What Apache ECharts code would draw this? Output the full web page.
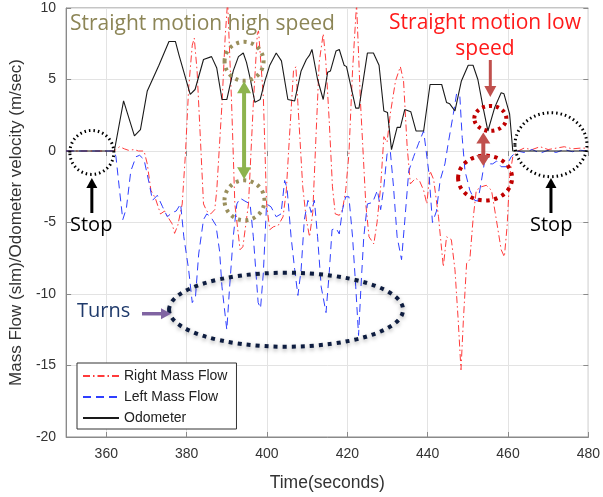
<!DOCTYPE html>
<html>
<head>
<meta charset="utf-8">
<script src="https://cdn.jsdelivr.net/npm/echarts@6/dist/echarts.min.js"></script>
<style>
html,body{margin:0;padding:0;background:#fff;}
#chart{width:603px;height:497px;}
</style>
</head>
<body>
<div id="chart"></div>
<script>
// ---- data (time in seconds, value) ----
const xTicks = [360, 380, 400, 420, 440, 460, 480];
const yTicks = [-20, -15, -10, -5, 0, 5, 10];

const odoT = [350,362,364.3,367,368.5,370.2,373.1,375.6,377.2,378.1,380.9,382.1,384.2,386.2,387.5,388.8,390,391.6,392.9,394.1,394.9,395.8,397,398.3,399.5,400.7,402.3,403.6,405.2,406.9,408.5,409.8,410.6,411.2,412.6,414,415.1,415.8,417.2,418,419.2,419.8,422.1,422.9,425,426.5,427.9,429.1,430,431,432.4,433.2,434.3,435.8,437.1,439,440.6,443.5,444.7,445.5,446.8,448.4,450.1,451.3,452.5,453.8,455,456.7,458.3,459,460.4,461.2,480];
const odoV = [0,0,3.5,1.06,1.5,4.2,6.0,7.66,7.66,6.7,3.96,4.3,6.4,6.6,5.8,3.6,3.6,5.6,6.6,6.85,6.2,5.1,3.4,3.6,4.9,6.0,6.85,6.3,3.6,3.5,5.6,6.4,6.7,7.1,5.0,3.6,5.5,5.6,7.0,7.1,6.0,5.9,3.0,3.0,6.85,6.85,6.0,2.8,2.7,0.1,1.65,1.65,2.9,2.75,1.4,1.4,4.65,4.65,3.4,3.3,2.8,4.9,6.0,6.0,5.0,3.05,1.4,3.05,4.07,4.0,2.6,0,0];

const rightT = [350,362,363.3,364.5,365.5,367,368,369.4,370.2,371.1,372.2,373.5,374.5,375.3,376.4,377,377.8,378.9,379.7,380.5,381.4,381.9,382.6,383.4,384.2,385,386,387,387.5,388.8,389.6,390.2,391.2,392,393.3,394,395.4,396.6,397.6,397.9,399.1,399.9,400.7,401.6,402.8,404,404.8,405.6,406.6,407.2,407.7,408.9,409.8,410.6,411.4,412.2,413,414,414.6,415.5,416.3,417,418,418.8,419.6,420.4,421.3,422.3,423.3,424.6,425.4,426.6,427.4,428.3,429.1,429.9,430.7,432,433.2,434,434.9,435.7,437,438,439,439.8,440.6,441.5,442.7,443.9,444.7,445.9,446.8,447.6,448.3,448.9,449.7,450.5,451.3,452.1,453.4,454.6,455.9,457.1,458.3,459.1,459.8,460.4,461.2,462.5,464,466,468,470,472,474,476,478,480];
const rightV = [0,0,0.3,0.15,0.05,0.1,0,0,-0.9,-2.75,-3.3,-4.4,-4.2,-4.6,-5.1,-5.76,-5.2,-3.7,-0.2,4.4,7.4,7.9,5.6,1.0,-3.7,-4.2,-4.4,-4.1,-2.75,3.3,8.0,10.5,3.3,-3.7,-6.9,-6.7,-3.7,3.3,8.2,8.4,3.75,-3.7,-5.5,-5.3,-5.2,-4.6,-2.8,1.0,5.6,5.9,3.3,-2.5,-4.8,-6.0,-4.3,1.0,6.2,8.2,6.5,2.1,-2.5,-4.4,-4.5,-4.1,-2.75,-0.2,5.6,10.3,3.3,-3.7,-6.0,-6.5,-5.0,-2.5,1.0,0.6,2.6,4.9,5.9,4.9,0.3,-2.3,-1.9,-2.1,-2.75,-3.7,-1.4,-2.0,-4.6,-8.1,-6.0,-6.2,-8.3,-11.8,-15.3,-11.8,-7.85,-7.6,-4.8,-2.75,-2.5,-2.4,-2.75,-4.8,-6.9,-7.4,-5.2,-1.8,-0.4,0,0.2,0.1,0.3,0.1,0.2,0.3,0.15,0.2,0.2];

const leftT = [350,362,362.4,363.3,364.1,365,366.1,367.4,368.3,369.4,370.7,371.5,372.7,374,375.2,376.4,377.4,378.5,379.3,380.5,381.4,382.2,383,384.2,385,386,387.3,388.2,388.8,390,390.7,391.6,392.5,393.3,394.5,395.8,396.6,397.8,398.4,399.1,399.9,401,402.3,403.5,404.4,405,406,406.9,407.7,408.5,409.3,410.2,411,411.8,412.6,413.5,414.7,415.5,416.2,417.2,418,418.8,419.6,420.4,421.3,422.1,422.8,423.4,424.1,425,426.3,427.5,428.3,429.1,429.9,430.7,431.5,432.4,433.5,434.3,435.3,436.5,437.7,439,439.4,440.3,441.2,442.2,443.1,444.3,445.1,446.4,447.2,448,448.6,449.3,450.5,451.7,452.5,453.4,454.2,455.2,456.2,457.2,458.3,459.5,460.8,462.3,464,466,468,470,472,474,476,478,480];
const leftV = [0,0,-0.4,-2.75,-4.8,-4.0,-1.4,-0.4,-0.3,-0.6,-2.3,-3.45,-3.1,-3.9,-4.6,-4.3,-4.2,-3.7,-6.0,-8.3,-10.6,-10.2,-7.2,-4.8,-4.4,-4.6,-5.2,-7.0,-9.5,-12.5,-9.5,-6.0,-3.7,-3.3,-3.5,-3.7,-6.0,-10.6,-11.0,-8.5,-3.7,-3.9,-4.6,-4.4,-2.06,-2.6,-6.0,-8.3,-10.1,-8.3,-4.8,-3.45,-4.3,-3.45,-6.0,-9.5,-11.3,-8.5,-5.5,-5.4,-5.8,-4.1,-3.2,-3.2,-6.0,-9.5,-12.9,-9.5,-6.0,-3.7,-3.6,-2.75,-4.1,-2.5,-0.2,0,-2.5,-6.0,-7.6,-4.9,-1.4,-0.4,0.5,1.4,1.5,-1.5,-5.0,-4.2,-2.06,-0.9,0.5,2.6,4.0,3.9,0.95,-1.4,-2.75,-3.45,-3.5,-2.06,-0.7,-0.9,-0.9,-0.7,-1.1,-1.1,-0.4,0,-0.1,0.1,-0.15,0.05,-0.1,0.1,-0.05,0.05,0];

const seriesNames = ['Right Mass Flow', 'Left Mass Flow', 'Odometer'];

function zip(t, v) { return t.map((x, i) => [x, v[i]]); }

const chart = echarts.init(document.getElementById('chart'), null, {renderer: 'canvas'});
const axisFont = 'Liberation Sans, Arial, sans-serif';
const noteFont = '"Open Sans", Lato, sans-serif';

const option = {
  animation: false,
  backgroundColor: '#fff',
  grid: {left: 63, right: 13.5, top: 8, bottom: 57, show: true, borderColor: '#8a8a8a', borderWidth: 1},
  legend: {
    orient: 'vertical', left: 77, top: 363,
    data: seriesNames,
    backgroundColor: '#fff', borderColor: '#333', borderWidth: 1, borderRadius: 0,
    padding: [6, 9, 4, 5], itemGap: 7, itemWidth: 36, itemHeight: 14,
    itemStyle: {opacity: 0},
    textStyle: {fontFamily: axisFont, fontSize: 14, color: '#222'}
  },
  xAxis: [{
    type: 'value', min: 350, max: 480,
    name: 'Time(seconds)', nameLocation: 'middle', nameGap: 37,
    nameTextStyle: {fontFamily: axisFont, fontSize: 17.5, color: '#333'},
    axisLine: {show: true, onZero: false, lineStyle: {color: '#8a8a8a'}},
    axisTick: {show: true, inside: true, length: 5, customValues: xTicks, lineStyle: {color: '#8a8a8a'}},
    axisLabel: {customValues: xTicks, margin: 10, fontFamily: axisFont, fontSize: 14, color: '#333'},
    splitLine: {show: true, lineStyle: {color: '#e3e3e3'}}
  }, {
    type: 'value', min: 350, max: 480, position: 'top',
    axisLine: {show: false},
    axisTick: {show: true, inside: true, length: 5, customValues: xTicks, lineStyle: {color: '#8a8a8a'}},
    axisLabel: {show: false}, splitLine: {show: false}
  }],
  yAxis: [{
    type: 'value', min: -20, max: 10, interval: 5,
    name: 'Mass Flow (slm)/Odometer velocity (m/sec)', nameLocation: 'middle', nameGap: 34,
    nameTextStyle: {fontFamily: axisFont, fontSize: 17, color: '#333'},
    axisLine: {show: true, onZero: false, lineStyle: {color: '#8a8a8a'}},
    axisTick: {show: true, inside: true, length: 5, lineStyle: {color: '#8a8a8a'}},
    axisLabel: {margin: 10, fontFamily: axisFont, fontSize: 14, color: '#333'},
    splitLine: {show: true, lineStyle: {color: '#e3e3e3'}}
  }, {
    type: 'value', min: -20, max: 10, interval: 5, position: 'right',
    axisLine: {show: false},
    axisTick: {show: true, inside: true, length: 5, lineStyle: {color: '#8a8a8a'}},
    axisLabel: {show: false}, splitLine: {show: false}
  }],
  series: [
    {name: seriesNames[0], type: 'line', data: zip(rightT, rightV), symbol: 'none', clip: true,
     color: '#ff3b3b', lineStyle: {color: '#ff3b3b', width: 1, type: [7, 3, 1.5, 3]}, z: 3},
    {name: seriesNames[1], type: 'line', data: zip(leftT, leftV), symbol: 'none', clip: true,
     color: '#2f3fff', lineStyle: {color: '#2f3fff', width: 1, type: [8, 5]}, z: 3},
    {name: seriesNames[2], type: 'line', data: zip(odoT, odoV), symbol: 'none', clip: true,
     color: '#1a1a1a', lineStyle: {color: '#1a1a1a', width: 1.1, type: 'solid'}, z: 4}
  ]
};
chart.setOption(option);

// ---- annotations (anchored in data coordinates) ----
function px(t, v) { return chart.convertToPixel({xAxisIndex: 0, yAxisIndex: 0}, [t, v]); }

function arrow(x1, y1, x2, y2, color, w, headLen, headW, both) {
  const els = [];
  const dx = x2 - x1, dy = y2 - y1, L = Math.hypot(dx, dy);
  const ux = dx / L, uy = dy / L, nx = -uy, ny = ux;
  const sx1 = both ? x1 + ux * headLen * 0.8 : x1;
  const sy1 = both ? y1 + uy * headLen * 0.8 : y1;
  els.push({type: 'line', z: 10, shape: {x1: sx1, y1: sy1, x2: x2 - ux * headLen * 0.8, y2: y2 - uy * headLen * 0.8},
    style: {stroke: color, lineWidth: w}});
  function head(hx, hy, dirx, diry) {
    return {type: 'polygon', z: 10, shape: {points: [
      [hx, hy],
      [hx - dirx * headLen + nx * headW / 2, hy - diry * headLen + ny * headW / 2],
      [hx - dirx * headLen - nx * headW / 2, hy - diry * headLen - ny * headW / 2]
    ]}, style: {fill: color}};
  }
  els.push(head(x2, y2, ux, uy));
  if (both) els.push(head(x1, y1, -ux, -uy));
  return els;
}

function ell(cx, cy, rx, ry, color, w, dash, shadow) {
  const o = {type: 'ellipse', z: 9, shape: {cx: cx, cy: cy, rx: rx, ry: ry},
    style: {fill: null, stroke: color, lineWidth: w, lineDash: dash}};
  if (shadow) { o.style.shadowBlur = 4; o.style.shadowColor = 'rgba(0,0,0,0.35)'; o.style.shadowOffsetY = 2; }
  return o;
}

function txt(x, y, s, color, size, align) {
  return {type: 'text', z: 11, x: x, y: y,
    style: {text: s, fill: color, font: size + 'px ' + noteFont, textAlign: align || 'left', textVerticalAlign: 'middle'}};
}

const pStopL = px(356.4, -0.1);
const pStopR = px(470.7, 0.44);
const pHiTop = px(394.3, 6.27);
const pHiBot = px(394.4, -3.45);
const pLoTop = px(455.6, 2.28);
const pLoBot = px(454.3, -1.89);
const pTurns = px(405, -11.1);

let g = [];
g.push(ell(pStopL[0], pStopL[1], 22, 22, '#000', 3, [1.5, 3]));
g.push(ell(pStopR[0], pStopR[1], 36, 32, '#000', 3, [1.5, 3]));
g.push(ell(pHiTop[0], pHiTop[1], 19.5, 19.5, '#9a8f5c', 4, [3, 4.5]));
g.push(ell(pHiBot[0], pHiBot[1], 20, 20, '#9a8f5c', 4, [3, 4.5]));
g.push(ell(pLoTop[0], pLoTop[1], 16, 12.5, '#c00000', 4, [3, 4]));
g.push(ell(pLoBot[0], pLoBot[1], 27, 22.5, '#c00000', 4, [3.5, 4.5]));
g.push(ell(pTurns[0] - 1, pTurns[1], 117, 37, '#0e1d40', 4, [4, 5], true));

g = g.concat(arrow(pHiTop[0], pHiTop[1] + 20, pHiTop[0], pHiBot[1] - 21, '#8db34d', 4, 12, 14, true));
g = g.concat(arrow(pLoTop[0] - 7, pLoTop[1] + 14, pLoTop[0] - 7, pLoBot[1] - 12, '#c0504d', 4, 11, 14, true));
g = g.concat(arrow(pLoTop[0], 60, pLoTop[0], 97, '#c0504d', 3, 11, 12, false));
g = g.concat(arrow(pStopL[0], 213, pStopL[0], 178, '#000', 3, 10, 11, false));
g = g.concat(arrow(pStopR[0], 213, pStopR[0], 178, '#000', 3, 10, 11, false));
g = g.concat(arrow(142, pTurns[1] + 4, 171, pTurns[1] + 4, '#8064a2', 3.5, 10, 11, false));

g.push(txt(70, 24, 'Straight motion high speed', '#8c8556', 21));
g.push(txt(485, 23, 'Straight motion low', '#ff1a1a', 21, 'center'));
g.push(txt(485, 49, 'speed', '#ff1a1a', 21, 'center'));
g.push(txt(70, 225, 'Stop', '#000', 20));
g.push(txt(530, 225, 'Stop', '#000', 20));
g.push(txt(77, 311, 'Turns', '#1f3a6b', 20));

chart.setOption({graphic: {elements: g}});
</script>
</body>
</html>
